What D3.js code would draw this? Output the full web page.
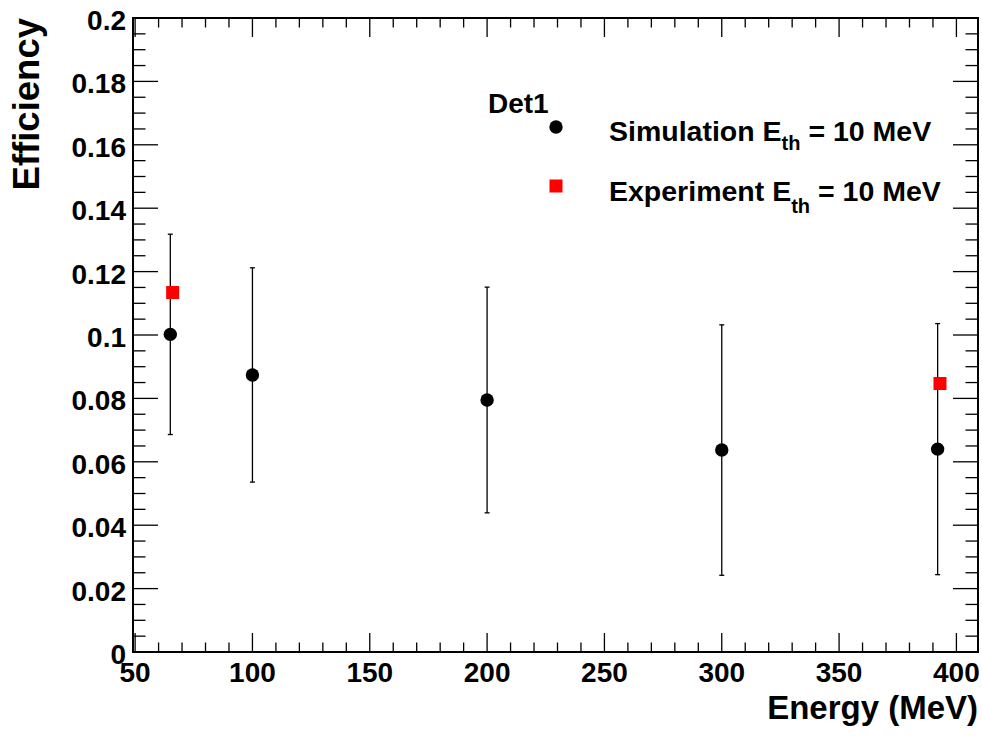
<!DOCTYPE html>
<html>
<head>
<meta charset="utf-8">
<script src="https://cdn.jsdelivr.net/npm/d3@7"></script>
<style>
  body { margin: 0; background: #fff; }
  svg text { font-family: "Liberation Sans", Arial, Helvetica, sans-serif; font-weight: bold; fill: #000; }
</style>
</head>
<body>
<svg id="chart" width="982" height="748"></svg>
<script>
// simulation points (black circles, with error bars)
const simEnergy = [65, 100, 200, 300, 392];
const simEff = [0.1002, 0.0874, 0.0795, 0.0637, 0.0640];
const simErr = [0.0316, 0.0338, 0.0356, 0.0395, 0.0396];

// experiment points (red squares)
const expEnergy = [66, 393];
const expEff = [0.1134, 0.0847];

const xTicks = [50, 100, 150, 200, 250, 300, 350, 400];
const yTicks = [0, 0.02, 0.04, 0.06, 0.08, 0.1, 0.12, 0.14, 0.16, 0.18, 0.2];

const svg = d3.select('#chart');
const padL = 133, padR = 978, padT = 18, padB = 652;

const x = d3.scaleLinear().domain([49.1, 409.2]).range([padL, padR]);
const y = d3.scaleLinear().domain([0, 0.2]).range([padB, padT]);

const xMinor = d3.range(50, 410, 10);
const yMinor = d3.range(0, 0.2001, 0.005);

// ticks on all four sides
let ticks = svg.append('g').attr('stroke', '#000').attr('stroke-width', 1.3);

xMinor.forEach(function(v) {
  let len = (v % 50 == 0) ? 19 : 9.5;
  ticks.append('line').attr('x1', x(v)).attr('x2', x(v)).attr('y1', padB).attr('y2', padB - len);
  ticks.append('line').attr('x1', x(v)).attr('x2', x(v)).attr('y1', padT).attr('y2', padT + len);
});
yMinor.forEach(function(v, i) {
  let len = (i % 4 == 0) ? 25 : 12.5;
  ticks.append('line').attr('x1', padL).attr('x2', padL + len).attr('y1', y(v)).attr('y2', y(v));
  ticks.append('line').attr('x1', padR).attr('x2', padR - len).attr('y1', y(v)).attr('y2', y(v));
});

// frame
svg.append('rect')
  .attr('x', padL).attr('y', padT)
  .attr('width', padR - padL).attr('height', padB - padT)
  .attr('fill', 'none').attr('stroke', '#000').attr('stroke-width', 2);

// tick labels
svg.append('g').selectAll('text').data(xTicks).join('text')
  .attr('x', d => x(d)).attr('y', padB + 29.5)
  .attr('text-anchor', 'middle').attr('font-size', 28)
  .text(d => d);

svg.append('g').selectAll('text').data(yTicks).join('text')
  .attr('x', 126).attr('y', d => y(d) + 12)
  .attr('text-anchor', 'end').attr('font-size', 28)
  .text(d => d3.format('~g')(d));

// axis titles
svg.append('text')
  .attr('x', padR).attr('y', 719)
  .attr('text-anchor', 'end').attr('font-size', 33)
  .text('Energy (MeV)');

svg.append('text')
  .attr('transform', 'translate(39,' + padT + ') rotate(-90)')
  .attr('text-anchor', 'end').attr('font-size', 36.5)
  .text('Efficiency');

// error bars
let err = svg.append('g').attr('stroke', '#000').attr('stroke-width', 1.3);
simEnergy.forEach(function(e, i) {
  let cx = x(e);
  let y1 = y(simEff[i] + simErr[i]), y2 = y(simEff[i] - simErr[i]);
  err.append('line').attr('x1', cx).attr('x2', cx).attr('y1', y1).attr('y2', y2);
  err.append('line').attr('x1', cx - 2.5).attr('x2', cx + 2.5).attr('y1', y1).attr('y2', y1);
  err.append('line').attr('x1', cx - 2.5).attr('x2', cx + 2.5).attr('y1', y2).attr('y2', y2);
});

svg.append('g').selectAll('circle').data(simEnergy).join('circle')
  .attr('cx', d => x(d)).attr('cy', (d, i) => y(simEff[i]))
  .attr('r', 6.7).attr('fill', '#000');

svg.append('g').selectAll('rect').data(expEnergy).join('rect')
  .attr('x', d => x(d) - 6.5).attr('y', (d, i) => y(expEff[i]) - 6.5)
  .attr('width', 13).attr('height', 13).attr('fill', '#ff0000');

// legend
svg.append('text').attr('x', 488).attr('y', 113).attr('font-size', 28).text('Det1');

svg.append('circle').attr('cx', 556).attr('cy', 127).attr('r', 6.7).attr('fill', '#000');
svg.append('rect').attr('x', 549.5).attr('y', 179.5).attr('width', 13).attr('height', 13).attr('fill', '#ff0000');

function legendText(label, yy, sub) {
  let t = svg.append('text').attr('x', 609).attr('y', yy).attr('font-size', 28.5);
  t.append('tspan').text(label + ' E');
  t.append('tspan').attr('font-size', 20).attr('dy', sub).text('th');
  t.append('tspan').attr('dy', -sub).text(' = 10 MeV');
}
legendText('Simulation', 141, 9);
legendText('Experiment', 201, 12);
</script>
</body>
</html>
